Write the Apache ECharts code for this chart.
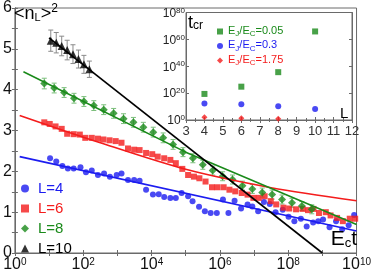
<!DOCTYPE html>
<html><head><meta charset="utf-8">
<script src="https://cdn.jsdelivr.net/npm/echarts@6/dist/echarts.min.js"></script>
<style>html,body{margin:0;padding:0;background:#fff}#c{width:374px;height:273px}</style>
</head><body><div id="c"></div>
<script>
// ---- main plot data: x values are log10(Ec t), y values are <n_L>^2 ----
const xTickLabels = [0, 2, 4, 6, 8, 10];
const yTickLabels = [0, 1, 2, 3, 4, 5, 6];

const blueLogT = [1.03,1.21,1.39,1.55,1.72,1.92,2.08,2.25,2.43,2.61,2.78,2.98,3.12,3.31,3.49,3.65,3.84,4.04,4.21,4.37,4.55,4.71,4.88,5.07,
  5.20,5.39,5.56,5.73,5.91,6.09,6.25,6.43,6.62,6.81,6.95,7.12,7.29,7.46,7.63,7.84,8.01,8.18,8.37,8.54,8.73,8.88,9.02,9.21,9.40,9.58,9.77,9.93];
const blueVal = [2.32,2.24,2.13,2.07,2.07,2.10,1.98,2.02,1.91,1.95,1.87,1.91,1.95,1.79,1.79,1.77,1.55,1.43,1.44,1.37,1.35,1.35,1.47,1.39,
  1.27,1.13,1.02,0.98,0.98,1.31,0.98,1.28,1.09,1.19,1.14,1.02,1.25,1.20,1.00,1.06,0.89,0.78,0.84,0.65,0.75,0.78,0.82,0.63,0.78,0.58,0.68,0.93];

const redLogT = [0.86,1.02,1.19,1.37,1.53,1.72,1.90,2.06,2.25,2.43,2.59,2.77,2.95,3.12,3.31,3.49,3.65,3.84,4.02,4.18,4.37,4.55,4.71,4.90,5.07,
  5.24,5.40,5.58,5.77,5.93,6.11,6.28,6.45,6.64,6.81,6.98,7.14,7.31,7.49,7.65,7.86,8.03,8.23,8.42,8.58,8.74,8.90,9.10,9.24,9.43,9.60,9.80,9.96];
const redVal = [3.20,3.16,3.10,3.04,2.92,2.91,2.90,2.82,2.82,2.80,2.78,2.76,2.74,2.70,2.56,2.53,2.52,2.45,2.42,2.36,2.32,2.28,2.20,2.06,1.91,
  1.87,1.83,1.75,1.61,1.61,1.61,1.55,1.51,1.47,1.43,1.35,1.35,1.39,1.27,1.19,1.11,1.09,1.07,1.08,1.05,1.08,0.98,1.00,0.92,0.86,0.78,0.84,0.84];

const greenLogT = [0.86,1.15,1.44,1.73,2.02,2.31,2.60,2.89,3.18,3.47,3.76,4.05,4.34,4.63,4.92,5.21,5.50,5.79,6.08,6.37,6.66,6.95,7.24,7.53,7.82,8.11,8.40,8.69];
const greenVal = [4.15,4.04,3.93,3.79,3.71,3.61,3.51,3.42,3.29,3.20,3.08,2.96,2.82,2.66,2.47,2.32,2.16,2.02,1.88,1.80,1.65,1.57,1.48,1.43,1.31,1.23,1.15,1.07];
const greenErr = [0.13,0.12,0.12,0.12,0.12,0.12,0.12,0.12,0.12,0.12,0.12,0.12,0.12,0.12,0.11,0.11,0.11,0.11,0.11,0.11,0.11,0.11,0.11,0.11,0.11,0.11,0.11,0.11];

const blackLogT = [1.05,1.21,1.37,1.53,1.70,1.86,2.02,2.18];
const blackVal = [5.20,5.15,5.07,4.97,4.87,4.75,4.62,4.50];
const blackErr = [0.26,0.25,0.24,0.24,0.23,0.22,0.22,0.20];

// fit lines (read at a few points)
const blueFitLogT = [0.14, 10];      const blueFitVal = [2.36, 0.54];
const redFitLogT = [0.14, 2.5, 5.0, 7.5, 10]; const redFitVal = [3.37, 2.70, 2.05, 1.60, 1.28];
const greenFitLogT = [0.25, 5.0, 10]; const greenFitVal = [4.44, 2.47, 0.70];
const blackFitLogT = [1.0, 9.0];      const blackFitVal = [5.27, 0.0];

// ---- inset data: x = L, y = log10(t_cr) ----
const insetL = [4, 6, 8, 10];
const insetXTicks = [3,4,5,6,7,8,9,10,11,12];
const insetYTicks = [0, 20, 40, 60, 80];
const tcr005 = [19.4, 24.8, 35.6, 65.9];
const tcr03 = [12.2, 11.7, 10.2, 8.2];
const insetLRed = [4, 6, 8];
const tcr175 = [2.0, 1.3, 1.0];

const BLUE = '#1c1cf0', RED = '#f41c1c', GREEN = '#1a8a1a', BLACK = '#000';
const FONT = 'Liberation Sans';
const AX = '#6a6a6a';

const pairs = (xs, ys) => xs.map((x, i) => [x, ys[i]]);
const errData = (xs, ys, es) => xs.map((x, i) => [x, ys[i] - es[i], ys[i] + es[i]]);

function errSeries(data, color) {
  return {
    type: 'custom', xAxisIndex: 0, yAxisIndex: 0, z: 2,
    encode: {x: 0, y: [1, 2]},
    data: data,
    renderItem: (params, api) => {
      const x = api.value(0);
      const p1 = api.coord([x, api.value(1)]);
      const p2 = api.coord([x, api.value(2)]);
      const w = 2.5;
      const st = {stroke: color, lineWidth: 1};
      return {type: 'group', children: [
        {type: 'line', shape: {x1: p1[0], y1: p1[1], x2: p2[0], y2: p2[1]}, style: st},
        {type: 'line', shape: {x1: p1[0]-w, y1: p1[1], x2: p1[0]+w, y2: p1[1]}, style: st},
        {type: 'line', shape: {x1: p2[0]-w, y1: p2[1], x2: p2[0]+w, y2: p2[1]}, style: st}
      ]};
    }
  };
}

const richMain = {
  b: {fontFamily: FONT, fontSize: 16, lineHeight: 18, verticalAlign: 'bottom', color: '#111'},
  s: {fontFamily: FONT, fontSize: 10, lineHeight: 10, verticalAlign: 'bottom', padding: [0, 0, 6, 0], color: '#111'}
};
const richInset = {
  b: {fontFamily: FONT, fontSize: 12, lineHeight: 14, verticalAlign: 'bottom', color: '#222'},
  s: {fontFamily: FONT, fontSize: 8, lineHeight: 8, verticalAlign: 'bottom', padding: [0, 0, 5, 0], color: '#222'}
};

function legRich(color) {
  return {
    b: {fontFamily: FONT, fontSize: 11, lineHeight: 13, verticalAlign: 'top', color: color},
    s: {fontFamily: FONT, fontSize: 8, lineHeight: 9, verticalAlign: 'bottom', color: color}
  };
}
const legNames = ['E_J/E_C=0.05', 'E_J/E_C=0.3', 'E_J/E_C=1.75'];
const legColors = [GREEN, BLUE, RED];

const tickStyle = {show: true, inside: true, length: 3, lineStyle: {color: AX, width: 1}};
const lineStyle = {show: true, lineStyle: {color: AX, width: 1}};

const option = {
  animation: false,
  backgroundColor: '#fff',
  textStyle: {fontFamily: FONT},
  grid: [
    {left: 12, top: 5, right: 15, bottom: 19, show: true, borderColor: AX, borderWidth: 1, backgroundColor: '#fff'},
    {left: 186, top: 12.5, width: 166, height: 107.5, show: true, borderColor: AX, borderWidth: 1, backgroundColor: '#fff'}
  ],
  xAxis: [
    {gridIndex: 0, type: 'value', min: 0, max: 10, interval: 1, axisLine: lineStyle, axisTick: tickStyle,
     splitLine: {show: false},
     axisLabel: {margin: 2, rich: richMain,
       formatter: v => xTickLabels.indexOf(v) >= 0 ? '{b|10}{s|' + v + '}' : ''}},
    {gridIndex: 0, type: 'value', position: 'top', min: 0, max: 10, interval: 1, axisLine: lineStyle, axisTick: tickStyle,
     splitLine: {show: false}, axisLabel: {show: false}},
    {gridIndex: 1, type: 'value', min: 3, max: 12, interval: 1, axisLine: lineStyle,
     axisTick: tickStyle, minorTick: {show: true, splitNumber: 2, length: 2, lineStyle: {color: AX}},
     splitLine: {show: false},
     axisLabel: {margin: 5, fontFamily: FONT, fontSize: 13, color: '#333',
       formatter: v => insetXTicks.indexOf(v) >= 0 ? String(v) : ''}},
    {gridIndex: 1, type: 'value', position: 'top', min: 3, max: 12, interval: 1, axisLine: lineStyle,
     axisTick: tickStyle, minorTick: {show: true, splitNumber: 2, length: 2, lineStyle: {color: AX}},
     splitLine: {show: false}, axisLabel: {show: false}}
  ],
  yAxis: [
    {gridIndex: 0, type: 'value', min: 0, max: 6, interval: 0.5, axisLine: lineStyle, axisTick: tickStyle,
     splitLine: {show: false},
     axisLabel: {margin: 3, fontFamily: FONT, fontSize: 16, color: '#111',
       formatter: v => yTickLabels.indexOf(v) >= 0 ? String(v) : ''}},
    {gridIndex: 0, type: 'value', position: 'right', min: 0, max: 6, interval: 0.5, axisLine: lineStyle, axisTick: tickStyle,
     splitLine: {show: false}, axisLabel: {show: false}},
    {gridIndex: 1, type: 'value', min: 0, max: 80, interval: 20, axisLine: lineStyle, axisTick: tickStyle,
     splitLine: {show: false},
     axisLabel: {margin: 1, rich: richInset,
       formatter: v => insetYTicks.indexOf(v) >= 0 ? '{b|10}{s|' + v + '}' : ''}},
    {gridIndex: 1, type: 'value', position: 'right', min: 0, max: 80, interval: 20, axisLine: lineStyle, axisTick: tickStyle,
     splitLine: {show: false}, axisLabel: {show: false}}
  ],
  legend: [
    {left: 16, top: 175, orient: 'vertical', itemWidth: 8, itemHeight: 8, itemGap: 3, selectedMode: false,
     textStyle: {fontFamily: FONT, fontSize: 15, lineHeight: 17, padding: [0, 0, 0, 4]},
     data: [
       {name: 'L=4', textStyle: {color: BLUE}},
       {name: 'L=6', textStyle: {color: RED}},
       {name: 'L=8', textStyle: {color: GREEN}},
       {name: 'L=10', textStyle: {color: BLACK}}
     ]},
    {left: 212, top: 20, orient: 'vertical', itemWidth: 6, itemHeight: 6, itemGap: 1.5, selectedMode: false,
     formatter: n => { const p = n.split('=')[1]; return '{b|E}{s|J}{b|/E}{s|C}{b|=' + p + '}'; },
     data: legNames.map((n, i) => ({name: n, textStyle: {color: legColors[i], rich: legRich(legColors[i])}}))}
  ],
  graphic: [
    {type: 'text', left: 14, top: 3, z: 20, style: {
      text: '{b|<n}{d|L}{b|>}{u|2}', fill: '#000',
      rich: {
        b: {fontFamily: FONT, fontSize: 18, lineHeight: 20, verticalAlign: 'bottom', color: '#000'},
        d: {fontFamily: FONT, fontSize: 11, lineHeight: 10, verticalAlign: 'bottom', color: '#000'},
        u: {fontFamily: FONT, fontSize: 12, lineHeight: 12, verticalAlign: 'top', color: '#000'}
      }}},
    {type: 'text', right: 17, top: 229, z: 20, style: {
      text: '{b|E}{d|c}{b|t}', fill: '#000',
      rich: {
        b: {fontFamily: FONT, fontSize: 21, lineHeight: 22, verticalAlign: 'bottom', color: '#000'},
        d: {fontFamily: FONT, fontSize: 13, lineHeight: 11, verticalAlign: 'bottom', color: '#000'}
      }}},
    {type: 'text', left: 188, top: 14, z: 20, style: {
      text: '{b|t}{d|cr}', fill: '#000',
      rich: {
        b: {fontFamily: FONT, fontSize: 18, lineHeight: 18, verticalAlign: 'bottom', color: '#000'},
        d: {fontFamily: FONT, fontSize: 12, lineHeight: 10, verticalAlign: 'bottom', color: '#000'}
      }}},
    {type: 'text', left: 340, top: 106, z: 20, style: {
      text: 'L', fill: '#000', font: '15px "Liberation Sans"'}}
  ],
  series: [
    errSeries(errData(greenLogT, greenVal, greenErr), '#7cbf7c'),
    errSeries(errData(blackLogT, blackVal, blackErr), '#8a8a8a'),
    {name: 'L=4', type: 'scatter', xAxisIndex: 0, yAxisIndex: 0, symbol: 'circle', symbolSize: 6,
     itemStyle: {color: BLUE}, data: pairs(blueLogT, blueVal), z: 3},
    {name: 'L=6', type: 'scatter', xAxisIndex: 0, yAxisIndex: 0, symbol: 'rect', symbolSize: 6,
     itemStyle: {color: RED}, data: pairs(redLogT, redVal), z: 3},
    {name: 'L=8', type: 'scatter', xAxisIndex: 0, yAxisIndex: 0, symbol: 'diamond', symbolSize: 8,
     itemStyle: {color: GREEN}, data: pairs(greenLogT, greenVal), z: 3},
    {name: 'L=10', type: 'scatter', xAxisIndex: 0, yAxisIndex: 0, symbol: 'triangle', symbolSize: 8,
     itemStyle: {color: BLACK}, data: pairs(blackLogT, blackVal), z: 3},
    {type: 'line', xAxisIndex: 0, yAxisIndex: 0, showSymbol: false, lineStyle: {color: BLUE, width: 1.6},
     data: pairs(blueFitLogT, blueFitVal), z: 4},
    {type: 'line', xAxisIndex: 0, yAxisIndex: 0, showSymbol: false, smooth: 0.3, lineStyle: {color: RED, width: 1.6},
     data: pairs(redFitLogT, redFitVal), z: 4},
    {type: 'line', xAxisIndex: 0, yAxisIndex: 0, showSymbol: false, lineStyle: {color: GREEN, width: 1.6},
     data: pairs(greenFitLogT, greenFitVal), z: 4},
    {type: 'line', xAxisIndex: 0, yAxisIndex: 0, showSymbol: false, lineStyle: {color: BLACK, width: 1.6},
     data: pairs(blackFitLogT, blackFitVal), z: 4},
    {name: legNames[0], type: 'scatter', xAxisIndex: 2, yAxisIndex: 2, symbol: 'rect', symbolSize: 6,
     itemStyle: {color: GREEN}, data: pairs(insetL, tcr005), z: 5},
    {name: legNames[1], type: 'scatter', xAxisIndex: 2, yAxisIndex: 2, symbol: 'circle', symbolSize: 6,
     itemStyle: {color: BLUE}, data: pairs(insetL, tcr03), z: 5},
    {name: legNames[2], type: 'scatter', xAxisIndex: 2, yAxisIndex: 2, symbol: 'diamond', symbolSize: 6,
     itemStyle: {color: RED}, data: pairs(insetLRed, tcr175), z: 5}
  ]
};
const chart = echarts.init(document.getElementById('c'), null, {renderer: 'canvas'});
chart.setOption(option);
</script></body></html>
